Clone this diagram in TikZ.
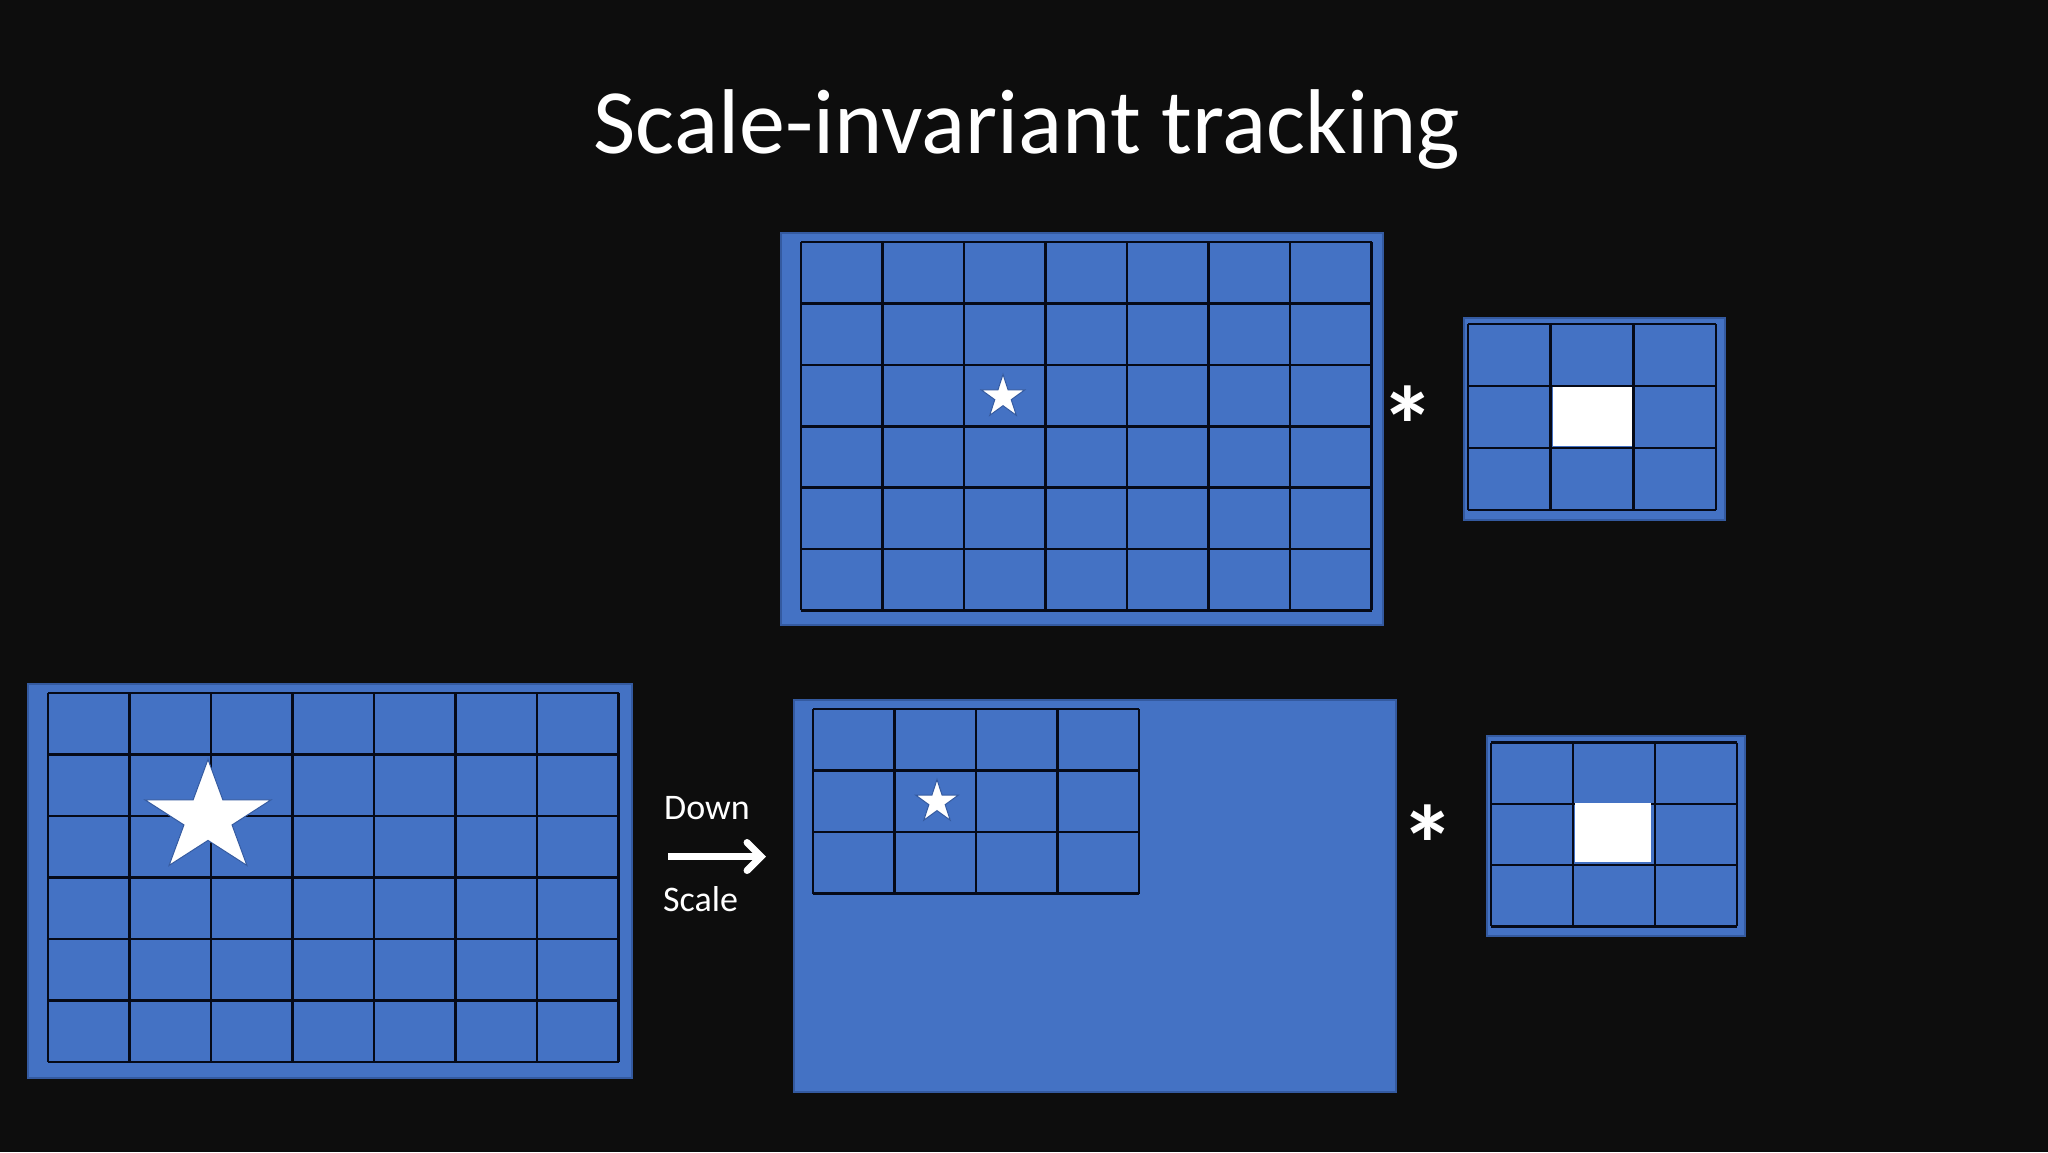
\documentclass[tikz,border=0pt]{standalone}
\usepackage{fontspec}
\setmainfont{Carlito}
\usetikzlibrary{arrows.meta}
\definecolor{bgc}{RGB}{13,13,13}
\definecolor{cellblue}{RGB}{68,114,196}
\definecolor{edgeblue}{RGB}{52,90,160}
\definecolor{gridc}{RGB}{6,10,24}
\tikzset{
  panel/.style={fill=cellblue, draw=edgeblue, line width=1.5pt, inner sep=0pt, anchor=north west},
  gridline/.style={draw=gridc, line width=2.6pt, line cap=square},
  starshape/.style={fill=white, draw=edgeblue, line width=1pt, line join=miter},
  whitecell/.style={fill=white, draw=none, inner sep=0pt, anchor=north west},
  label/.style={text=white, inner sep=0pt},
  astlabel/.style={text=white, inner sep=0pt, anchor=center, font=\bfseries\fontsize{110}{120}\selectfont},
  arrowstyle/.style={draw=white, line width=7pt, -{Straight Barb[length=14pt, width=28pt, line cap=round]}}
}
\newcommand{\cellgrid}[6]{%
  \foreach \i in {0,...,#3} {\draw[gridline] ({#1+\i*#5},#2) -- ({#1+\i*#5},{#2+#4*#6});}
  \foreach \j in {0,...,#4} {\draw[gridline] (#1,{#2+\j*#6}) -- ({#1+#3*#5},{#2+\j*#6});}
}
\newcommand{\fivestar}[4]{%
  \begin{scope}[shift={(#1,#2)}, xscale=#4, yscale=-1]
    \draw[starshape] (90:#3) -- (126:{0.382*#3}) -- (162:#3) -- (198:{0.382*#3}) -- (234:#3) -- (270:{0.382*#3}) -- (306:#3) -- (342:{0.382*#3}) -- (18:#3) -- (54:{0.382*#3}) -- cycle;
  \end{scope}
}
\begin{document}
\begin{tikzpicture}[x=1pt, y=-1pt]
\fill[bgc] (0,0) rectangle (2048,1152);
\useasboundingbox (0,0) rectangle (2048,1152);

% title
\node[label, anchor=base, font=\fontsize{92}{110}\selectfont] (title) at (1027,153) {Scale-invariant tracking};

% top image
\node[panel, minimum width=602pt, minimum height=392pt] (topimg) at (780,232) {};
\cellgrid{801}{242}{7}{6}{81.5}{61.4}
\fivestar{1003}{397}{22.7}{1}

% top kernel
\node[astlabel] (ast1) at (1408,425) {*};
\node[panel, minimum width=261pt, minimum height=202pt] (topker) at (1463,317) {};
\cellgrid{1468}{324}{3}{3}{82.7}{62}
\fill[white] (1553,387) rectangle (1632,446);

% bottom-left image
\node[panel, minimum width=604pt, minimum height=394pt] (leftimg) at (27,683) {};
\cellgrid{48}{693}{7}{6}{81.5}{61.5}
\fivestar{208}{818}{58.6}{1.13}

% arrow and labels
\node[label, anchor=base west, font=\fontsize{36}{42}\selectfont] (down) at (664,819) {Down};
\node[label, anchor=base west, font=\fontsize{36}{42}\selectfont] (scale) at (663,911) {Scale};
\coordinate (arrS) at (668,856.5);
\coordinate (arrE) at (766,856.5);
\draw[arrowstyle] (arrS) -- (arrE);

% bottom-middle image
\node[panel, minimum width=602pt, minimum height=392pt] (midimg) at (793,699) {};
\cellgrid{813}{709}{4}{3}{81.5}{61.5}
\fivestar{937}{802}{22.5}{1}

% bottom kernel
\node[astlabel] (ast2) at (1428,844) {*};
\node[panel, minimum width=258pt, minimum height=200pt] (botker) at (1486,735) {};
\cellgrid{1491}{742.5}{3}{3}{82}{61.3}
\fill[white] (1575,803) rectangle (1651,862);
\end{tikzpicture}
\end{document}
